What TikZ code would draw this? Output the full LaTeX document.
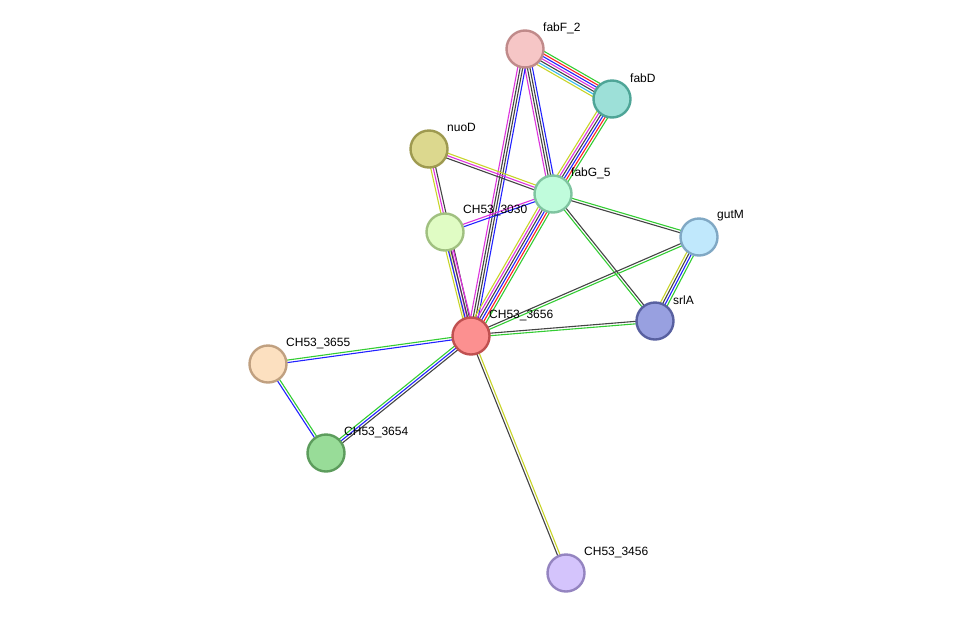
\documentclass[tikz,border=0pt]{standalone}
\usepackage{fontspec}
\setmainfont{Liberation Sans}
\usetikzlibrary{calc,backgrounds}
\definecolor{eg}{HTML}{33CC33}
\definecolor{eb}{HTML}{2222FF}
\definecolor{ek}{HTML}{444444}
\definecolor{em}{HTML}{DD33DD}
\definecolor{ey}{HTML}{C8D42A}
\definecolor{er}{HTML}{FF2222}
\definecolor{ec}{HTML}{33BBEE}
\tikzset{prot/.style={circle,minimum size=37pt,inner sep=0pt,line width=2.4pt},
 lab/.style={anchor=west,font=\fontsize{12}{14}\selectfont,inner sep=0pt}}
\newcommand\sedge[3]{%
 \xdef\nn{0}\foreach \c in {#3}{\xdef\nn{\the\numexpr\nn+1\relax}}%
 \foreach \c [count=\i] in {#3}{%
  \pgfmathsetmacro\off{(\i-(\nn+1)/2)*2.5}%
  \draw[\c,line width=1.1pt] ($(#1)!\off pt!90:(#2)$) -- ($(#2)!\off pt!-90:(#1)$);}}
\begin{document}
\begin{tikzpicture}[x=1pt,y=-1pt]
\useasboundingbox (0,0) rectangle (976,619);
\node[prot,fill={rgb,255:red,246;green,198;blue,198},draw={rgb,255:red,192;green,138;blue,138}] (fabF) at (525,49) {};
\node[prot,fill={rgb,255:red,157;green,224;blue,216},draw={rgb,255:red,78;green,165;blue,151}] (fabD) at (612,99) {};
\node[prot,fill={rgb,255:red,220;green,216;blue,142},draw={rgb,255:red,158;green,154;blue,80}] (nuoD) at (429,149) {};
\node[prot,fill={rgb,255:red,192;green,252;blue,220},draw={rgb,255:red,127;green,196;blue,160}] (fabG) at (553,194) {};
\node[prot,fill={rgb,255:red,224;green,252;blue,196},draw={rgb,255:red,160;green,192;blue,128}] (c3030) at (445,232) {};
\node[prot,fill={rgb,255:red,192;green,232;blue,252},draw={rgb,255:red,128;green,168;blue,196}] (gutM) at (699,237) {};
\node[prot,fill={rgb,255:red,152;green,160;blue,224},draw={rgb,255:red,88;green,96;blue,160}] (srlA) at (655,321) {};
\node[prot,fill={rgb,255:red,252;green,144;blue,144},draw={rgb,255:red,192;green,80;blue,80}] (c3656) at (471,336) {};
\node[prot,fill={rgb,255:red,252;green,224;blue,192},draw={rgb,255:red,192;green,160;blue,128}] (c3655) at (268,364) {};
\node[prot,fill={rgb,255:red,152;green,220;blue,152},draw={rgb,255:red,92;green,156;blue,92}] (c3654) at (326,453) {};
\node[prot,fill={rgb,255:red,212;green,196;blue,252},draw={rgb,255:red,148;green,132;blue,192}] (c3456) at (566,573) {};
\begin{scope}[on background layer]
\sedge{fabF}{fabD}{ey,ec,ek,em,eb,er,eg}
\sedge{fabF}{fabG}{em,ek,ek,eb}
\sedge{fabF}{c3656}{em,ek,ek,eb}
\sedge{fabD}{fabG}{ey,em,ek,eb,er,eg}
\sedge{fabG}{c3656}{ey,em,ek,eb,er,eg}
\sedge{nuoD}{fabG}{ek,em,ey}
\sedge{nuoD}{c3656}{ey,em,ek}
\sedge{c3030}{fabG}{eb,em}
\sedge{c3030}{c3656}{ey,eb,ek,em}
\sedge{fabG}{gutM}{ek,eg}
\sedge{fabG}{srlA}{eg,ek}
\sedge{gutM}{c3656}{ek,eg}
\sedge{gutM}{srlA}{ey,ek,eb,eg}
\sedge{srlA}{c3656}{ek,eg}
\sedge{c3655}{c3656}{eb,eg}
\sedge{c3654}{c3656}{ek,eb,eg}
\sedge{c3655}{c3654}{eb,eg}
\sedge{c3456}{c3656}{ey,ek}
\end{scope}
\node[lab] (l1) at (543,28) {fabF\_2};
\node[lab] (l2) at (630,78) {fabD};
\node[lab] (l3) at (447,127) {nuoD};
\node[lab] (l4) at (571,173) {fabG\_5};
\node[lab] (l5) at (463,210) {CH53\_3030};
\node[lab] (l6) at (717,216) {gutM};
\node[lab] (l7) at (673,300) {srlA};
\node[lab] (l8) at (489,315) {CH53\_3656};
\node[lab] (l9) at (286,343) {CH53\_3655};
\node[lab] (l10) at (344,432) {CH53\_3654};
\node[lab] (l11) at (584,552) {CH53\_3456};
\end{tikzpicture}
\end{document}
